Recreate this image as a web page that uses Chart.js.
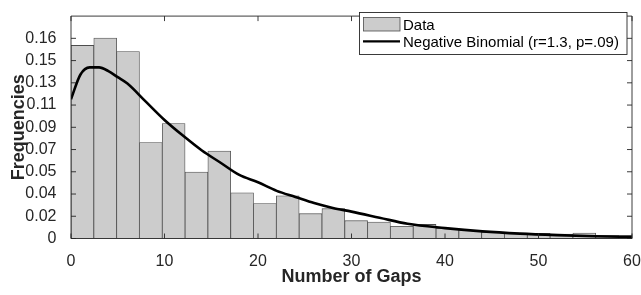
<!DOCTYPE html>
<html>
<head>
<meta charset="utf-8">
<script src="https://cdn.jsdelivr.net/npm/chart.js@4/dist/chart.umd.min.js"></script>
<style>
  html, body { margin: 0; padding: 0; background: #ffffff; }
  #wrap { width: 641px; height: 295px; }
</style>
</head>
<body>
<div id="wrap"><canvas id="c" width="641" height="295"></canvas></div>
<script>
// ---- data ----
const binWidth = 2.44;
const binStarts = [0, 2.44, 4.88, 7.32, 9.76, 12.2, 14.64, 17.08, 19.52, 21.96, 24.4, 26.84, 29.28, 31.72, 34.16, 36.6, 39.04, 41.48, 43.92, 46.36, 48.8, 51.24, 53.68, 56.12, 58.56];
const binFreq = [0.158, 0.164, 0.153, 0.0785, 0.094, 0.0544, 0.0715, 0.0374, 0.0286, 0.0349, 0.0203, 0.0244, 0.0146, 0.0135, 0.0099, 0.0115, 0.0083, 0.0065, 0.0052, 0.0045, 0.0042, 0.0037, 0.0044, 0.0026, 0.0023];

const curveX = [0, 1, 2, 3, 4, 5, 6, 8, 10, 12, 14, 16, 18, 20, 22, 24, 26, 28, 30, 33, 36, 40, 44, 48, 52, 56, 60];
const curveY = [0.114, 0.134, 0.140, 0.140, 0.137, 0.132, 0.127, 0.112, 0.097, 0.084, 0.072, 0.062, 0.052, 0.046, 0.039, 0.034, 0.029, 0.025, 0.022, 0.017, 0.012, 0.0085, 0.0058, 0.0040, 0.0028, 0.0019, 0.0013];

const yTickLabels = ['0', '0.02', '0.04', '0.05', '0.07', '0.09', '0.11', '0.13', '0.15', '0.16'];
const yTickStep = 0.0182;
const yMax = 0.182;
const xTickLabels = ['0', '10', '20', '30', '40', '50', '60'];
const xTickValues = [0, 10, 20, 30, 40, 50, 60];

const seriesNames = ['Data', 'Negative Binomial (r=1.3, p=.09)'];
const xTitle = 'Number of Gaps';
const yTitle = 'Frequencies';

// ---- styles ----
const FONT = "'Liberation Sans', Arial, Helvetica, sans-serif";
const AXIS_COLOR = '#262626';
const BAR_FILL = '#cccccc';
const BAR_EDGE = '#4d4d4d';

const barData = binStarts.map((s, i) => ({ x: s + binWidth / 2, y: binFreq[i] }));
const lineData = curveX.map((x, i) => ({ x: x, y: curveY[i] }));

const boxPlugin = {
  id: 'matlabBox',
  afterDatasetsDraw(chart) {
    const ctx = chart.ctx;
    const a = chart.chartArea;
    const xs = chart.scales.x, ys = chart.scales.y;
    ctx.save();
    ctx.strokeStyle = AXIS_COLOR;
    ctx.lineWidth = 0.9;
    ctx.beginPath();
    ctx.rect(a.left, a.top, a.right - a.left, a.bottom - a.top);
    ctx.stroke();
    const tl = 5;
    ctx.beginPath();
    xs.ticks.forEach(t => {
      const px = xs.getPixelForValue(t.value);
      ctx.moveTo(px, a.bottom); ctx.lineTo(px, a.bottom - tl);
      ctx.moveTo(px, a.top); ctx.lineTo(px, a.top + tl);
    });
    ys.ticks.forEach(t => {
      const py = ys.getPixelForValue(t.value);
      ctx.moveTo(a.left, py); ctx.lineTo(a.left + tl, py);
      ctx.moveTo(a.right, py); ctx.lineTo(a.right - tl, py);
    });
    ctx.stroke();

    // legend box (inside, top-right)
    const lx = 359.5, ly = 12.5, lw = 267.5, lh = 42;
    ctx.fillStyle = '#ffffff';
    ctx.fillRect(lx, ly, lw, lh);
    ctx.strokeStyle = AXIS_COLOR;
    ctx.lineWidth = 0.9;
    ctx.strokeRect(lx, ly, lw, lh);
    // bar swatch
    ctx.fillStyle = BAR_FILL;
    ctx.fillRect(363.5, 17.5, 36.5, 13.5);
    ctx.strokeStyle = BAR_EDGE;
    ctx.lineWidth = 0.8;
    ctx.strokeRect(363.5, 17.5, 36.5, 13.5);
    // line swatch
    ctx.strokeStyle = '#000000';
    ctx.lineWidth = 2.2;
    ctx.beginPath();
    ctx.moveTo(363, 41.3); ctx.lineTo(400, 41.3);
    ctx.stroke();
    ctx.fillStyle = '#000000';
    ctx.font = '15px ' + FONT;
    ctx.textAlign = 'left';
    ctx.textBaseline = 'alphabetic';
    ctx.fillText(chart.data.datasets[0].label, 403, 29.5);
    ctx.fillText(chart.data.datasets[1].label, 403, 46.8);
    ctx.restore();
  }
};

new Chart(document.getElementById('c'), {
  data: {
    datasets: [
      {
        type: 'bar',
        label: seriesNames[0],
        data: barData,
        backgroundColor: BAR_FILL,
        borderColor: BAR_EDGE,
        borderWidth: 0.8,
        borderSkipped: false,
        barPercentage: 1.0,
        categoryPercentage: 1.0,
        order: 2
      },
      {
        type: 'line',
        label: seriesNames[1],
        data: lineData,
        borderColor: '#000000',
        borderWidth: 2.6,
        pointRadius: 0,
        tension: 0.4,
        cubicInterpolationMode: 'monotone',
        fill: false,
        order: 1
      }
    ]
  },
  options: {
    responsive: false,
    animation: false,
    devicePixelRatio: 1,
    layout: { padding: { left: 0, right: 0, top: 5, bottom: 0 } },
    plugins: {
      legend: { display: false },
      tooltip: { enabled: false }
    },
    scales: {
      x: {
        type: 'linear',
        offset: false,
        min: 0,
        max: 60,
        grid: { display: false, offset: false },
        border: { display: false },
        afterBuildTicks(scale) {
          scale.ticks = xTickValues.map(v => ({ value: v }));
        },
        ticks: {
          padding: 5,
          color: AXIS_COLOR,
          font: { family: FONT, size: 16 },
          maxRotation: 0,
          callback(v, i) { return xTickLabels[i]; }
        },
        title: {
          display: true,
          text: xTitle,
          color: AXIS_COLOR,
          font: { family: FONT, size: 18, weight: 'bold' },
          padding: { top: 0, bottom: 7 }
        },
        afterFit(scale) { scale.height = 56.5; scale.paddingRight = 9; }
      },
      y: {
        type: 'linear',
        min: 0,
        max: yMax,
        grid: { display: false },
        border: { display: false },
        afterBuildTicks(scale) {
          scale.ticks = yTickLabels.map((l, i) => ({ value: i * yTickStep }));
        },
        ticks: {
          padding: 6.5,
          color: AXIS_COLOR,
          font: { family: FONT, size: 16 },
          callback(v, i) { return yTickLabels[i]; }
        },
        title: {
          display: true,
          text: yTitle,
          color: AXIS_COLOR,
          font: { family: FONT, size: 18, weight: 'bold' },
          padding: { top: 8, bottom: 0 }
        },
        afterFit(scale) { scale.width = 71; }
      }
    }
  },
  plugins: [boxPlugin]
});
</script>
</body>
</html>
